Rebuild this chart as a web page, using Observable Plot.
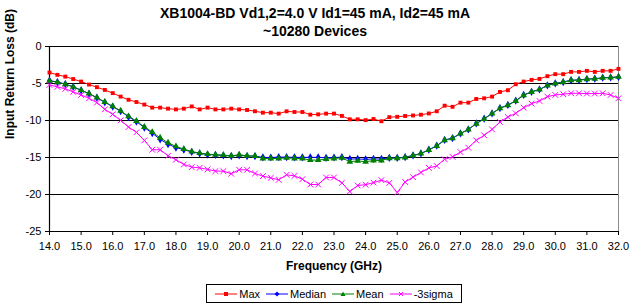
<!DOCTYPE html>
<html>
<head>
<meta charset="utf-8">
<script src="https://cdn.jsdelivr.net/npm/d3@7"></script>
<script src="https://cdn.jsdelivr.net/npm/@observablehq/plot@0.6"></script>
<style>
  body { margin: 0; background: #fff; font-family: "Liberation Sans", Arial, sans-serif; }
  #wrap { position: relative; width: 630px; height: 305px; overflow: hidden; background: #fff; }
  #chart { position: absolute; left: 0; top: 0; }
  .title { position: absolute; left: 0; width: 630px; text-align: center; font-weight: bold; font-size: 14px; line-height: 16px; color: #000; }
  #legend { position: absolute; left: 206px; top: 284px; width: 256px; height: 19px; border: 1px solid #000; box-sizing: border-box;
            display: flex; align-items: center; justify-content: center; font-size: 11px; color: #000; }
  .item { display: flex; align-items: center; margin: 0 3px; }
  .item svg { margin-right: 2px; }
</style>
</head>
<body>
<div id="wrap">
  <div class="title" style="top:5px">XB1004-BD Vd1,2=4.0 V Id1=45 mA, Id2=45 mA</div>
  <div class="title" style="top:23px">~10280 Devices</div>
  <div id="chart"></div>
  <div id="legend"></div>
</div>
<script>
// Frequency categories (GHz)
const freq = [14.0,14.25,14.5,14.75,15.0,15.25,15.5,15.75,16.0,16.25,16.5,16.75,17.0,17.25,17.5,17.75,
  18.0,18.25,18.5,18.75,19.0,19.25,19.5,19.75,20.0,20.25,20.5,20.75,21.0,21.25,21.5,21.75,
  22.0,22.25,22.5,22.75,23.0,23.25,23.5,23.75,24.0,24.25,24.5,24.75,25.0,25.25,25.5,25.75,
  26.0,26.25,26.5,26.75,27.0,27.25,27.5,27.75,28.0,28.25,28.5,28.75,29.0,29.25,29.5,29.75,
  30.0,30.25,30.5,30.75,31.0,31.25,31.5,31.75,32.0];

const maxVals = [-3.52,-3.83,-4.07,-4.4,-4.74,-5.14,-5.5,-5.87,-6.3,-6.77,-7.2,-7.5,-7.85,-8.26,-8.26,-8.4,
  -8.5,-8.4,-8.1,-8.5,-8.26,-8.5,-8.5,-8.4,-8.5,-8.58,-8.75,-8.94,-8.94,-9.07,-8.76,-8.85,
  -8.85,-9.21,-9.17,-9.07,-9.07,-9.38,-9.84,-9.84,-9.95,-9.8,-10.1,-9.55,-9.5,-9.39,-9.32,-9.22,
  -9.05,-8.75,-8.0,-8.15,-7.59,-7.59,-7.09,-7.0,-6.77,-6.14,-5.91,-5.1,-4.74,-4.51,-4.38,-4.01,
  -3.74,-3.74,-3.43,-3.43,-3.29,-3.43,-3.29,-3.29,-3.02];

const medianVals = [-4.6,-4.8,-5.08,-5.45,-5.92,-6.38,-6.92,-7.55,-8.12,-8.75,-9.5,-10.15,-10.95,-11.7,-12.55,-13.2,
  -13.65,-13.95,-14.25,-14.45,-14.6,-14.65,-14.72,-14.8,-14.7,-14.8,-14.82,-14.98,-15.0,-14.95,-14.95,-14.98,
  -14.98,-14.98,-14.98,-15.05,-15.0,-14.95,-15.2,-15.2,-15.25,-15.2,-15.2,-15.05,-15.05,-14.95,-14.72,-14.45,
  -13.95,-13.4,-12.62,-12.38,-11.75,-11.2,-10.4,-9.75,-9.05,-8.32,-7.9,-7.33,-6.55,-6.12,-5.8,-5.25,
  -4.98,-4.8,-4.55,-4.52,-4.4,-4.35,-4.22,-4.18,-4.12];

const meanVals = [-4.65,-4.83,-5.1,-5.46,-5.9,-6.36,-6.9,-7.5,-8.08,-8.7,-9.43,-10.07,-10.88,-11.56,-12.33,-13.0,
  -13.5,-13.86,-14.2,-14.4,-14.54,-14.63,-14.68,-14.77,-14.63,-14.77,-14.8,-15.13,-15.13,-15.13,-15.04,-15.13,
  -15.13,-15.35,-15.35,-15.22,-15.13,-15.04,-15.58,-15.45,-15.58,-15.4,-15.4,-15.1,-15.1,-15.0,-14.75,-14.48,
  -13.98,-13.44,-12.67,-12.41,-11.78,-11.24,-10.43,-9.8,-9.07,-8.35,-7.95,-7.36,-6.59,-6.14,-5.82,-5.28,
  -5.01,-4.83,-4.56,-4.56,-4.42,-4.38,-4.24,-4.2,-4.1];

const sigmaVals = [-5.19,-5.46,-5.72,-6.14,-6.55,-7.0,-7.58,-8.49,-9.17,-9.98,-10.88,-11.6,-12.69,-13.95,-13.95,-14.77,
  -15.3,-15.94,-16.3,-16.4,-16.6,-16.84,-16.84,-17.2,-16.66,-16.66,-17.16,-17.52,-17.75,-18.02,-17.34,-17.48,
  -17.93,-18.65,-18.65,-17.7,-17.7,-18.43,-19.6,-18.78,-18.68,-18.4,-18.06,-18.43,-19.73,-18.31,-17.66,-17.02,
  -16.4,-16.15,-15.24,-14.92,-14.27,-13.68,-12.69,-12.0,-11.2,-10.2,-9.53,-9.03,-8.26,-7.72,-7.36,-6.77,
  -6.55,-6.45,-6.32,-6.32,-6.36,-6.36,-6.32,-6.55,-7.0];

const seriesNames = ["Max", "Median", "Mean", "-3sigma"];
const seriesColors = ["#ff0000", "#0000ff", "#008000", "#ff00ff"];
const seriesSymbols = ["square", "diamond", "triangle", "times"];
const seriesValues = [maxVals, medianVals, meanVals, sigmaVals];

const xTicks = [14,15,16,17,18,19,20,21,22,23,24,25,26,27,28,29,30,31,32];
const yTicks = [0,-5,-10,-15,-20,-25];

const yLabel = "Input Return Loss (dB)";
const xLabel = "Frequency (GHz)";

const seriesMarks = [];
seriesNames.forEach((name, k) => {
  const rows = freq.map((f, i) => ({f, v: seriesValues[k][i], name}));
  seriesMarks.push(Plot.line(rows, {x: "f", y: "v", stroke: seriesColors[k], strokeWidth: 1}));
  const sym = seriesSymbols[k];
  if (sym === "times") {
    seriesMarks.push(Plot.dot(rows, {x: "f", y: "v", symbol: "times", r: 2.7, stroke: seriesColors[k], strokeWidth: 1}));
  } else {
    seriesMarks.push(Plot.dot(rows, {x: "f", y: "v", symbol: sym, r: sym === "square" ? 2.2 : 2.5, fill: seriesColors[k], stroke: "none"}));
  }
});

const chart = Plot.plot({
  width: 630,
  height: 305,
  marginTop: 46,
  marginRight: 12,
  marginBottom: 74,
  marginLeft: 49,
  style: {fontFamily: "'Liberation Sans', Arial, sans-serif", fontSize: "11px", color: "#000", background: "transparent", overflow: "visible"},
  x: {domain: [14, 32]},
  y: {domain: [-25, 0]},
  marks: [
    Plot.frame({stroke: "#8c8c8c"}),
    Plot.gridY(yTicks, {stroke: "#000", strokeOpacity: 1, strokeWidth: 1}),
    Plot.ruleX([14], {stroke: "#000", strokeWidth: 1.2}),
    Plot.ruleY([-25], {stroke: "#000", strokeWidth: 1.2}),
    Plot.axisY(yTicks, {tickSize: 4, tickPadding: 4, tickFormat: d => String(d), label: null, stroke: "#000"}),
    Plot.axisX(xTicks, {tickSize: 4, tickPadding: 7, tickFormat: d3.format(".1f"), label: null, stroke: "#000"}),
    Plot.text([yLabel], {frameAnchor: "left", dx: -39, rotate: -90, fontWeight: "bold", fontSize: 12}),
    Plot.text([xLabel], {frameAnchor: "bottom", dy: 38, fontWeight: "bold", fontSize: 12}),
    ...seriesMarks
  ]
});
document.getElementById("chart").appendChild(chart);

// Legend
const legend = document.getElementById("legend");
seriesNames.forEach((name, k) => {
  const item = document.createElement("div");
  item.className = "item";
  const c = seriesColors[k];
  let marker = "";
  if (seriesSymbols[k] === "square") marker = `<rect x="9" y="2" width="4" height="4" fill="${c}"/>`;
  else if (seriesSymbols[k] === "diamond") marker = `<path d="M11,1.5 L13.5,4 L11,6.5 L8.5,4 Z" fill="${c}"/>`;
  else if (seriesSymbols[k] === "triangle") marker = `<path d="M11,1.5 L13.5,6 L8.5,6 Z" fill="${c}"/>`;
  else marker = `<path d="M9,2 L13,6 M13,2 L9,6" stroke="${c}" stroke-width="1"/>`;
  item.innerHTML = `<svg width="22" height="8"><line x1="0" y1="4" x2="22" y2="4" stroke="${c}" stroke-width="1"/>${marker}</svg><span>${name}</span>`;
  legend.appendChild(item);
});
</script>
</body>
</html>
